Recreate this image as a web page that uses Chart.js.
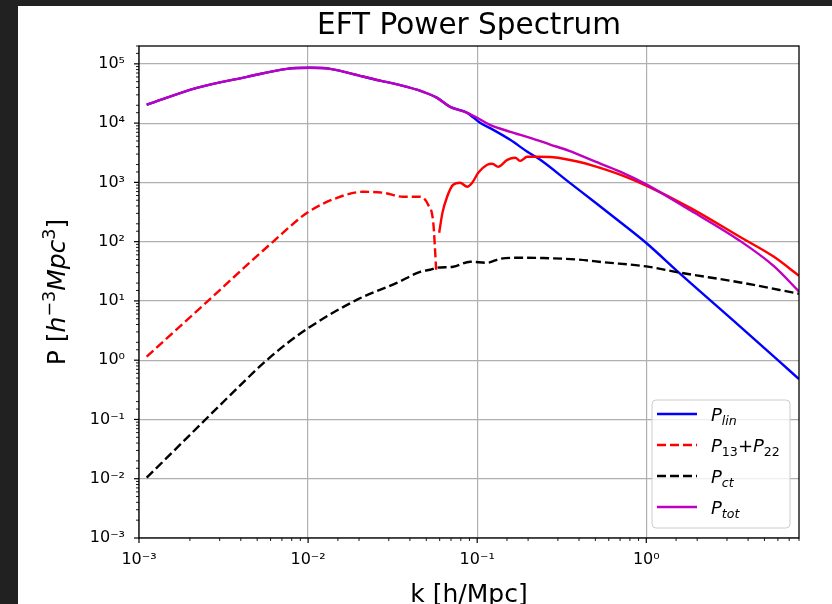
<!DOCTYPE html>
<html>
<head>
<meta charset="utf-8">
<title>EFT Power Spectrum</title>
<script src="https://cdn.jsdelivr.net/npm/chart.js@4.4.1/dist/chart.umd.min.js"></script>
<style>
  html, body { margin: 0; padding: 0; background: #212121; overflow: hidden; }
  #wrap { position: absolute; left: 18px; top: 6px; width: 814px; height: 598px; background: #fff; }
</style>
</head>
<body>
<div id="wrap"><canvas id="psChart" width="814" height="598"></canvas></div>
<script>
// k in h/Mpc, P in h^-3 Mpc^3
const kLin = [0.00111, 0.0022, 0.00436, 0.0075, 0.0103, 0.0135, 0.0211, 0.0267, 0.0336, 0.0479, 0.058, 0.0692, 0.0873, 0.104, 0.1245, 0.1567, 0.198, 0.236, 0.35, 0.488, 0.7, 1.0, 1.553, 3.55, 6.0, 8.0];
const pLin = [20400, 39400, 60400, 82400, 85700, 82400, 61100, 52000, 45000, 33700, 26700, 18800, 14900, 10100, 7700, 5230, 3280, 2400, 1000, 481, 215, 95, 30.3, 3.8, 1.0, 0.48];

// P13+P22 is negative below k ~ 0.058 (plotted as |P|, dashed) and positive above (solid)
const kLoopNeg = [0.00111, 0.0023, 0.00436, 0.0062, 0.00987, 0.01485, 0.0211, 0.0278, 0.0365, 0.046, 0.0513, 0.055, 0.0572];
const pLoopNeg = [1.15, 7.57, 40.4, 99.5, 307, 550, 693, 668, 572, 572, 419, 208, 33.6];
const kLoopPos = [0.0596, 0.0622, 0.0664, 0.0721, 0.0793, 0.0873, 0.0934, 0.1014, 0.1146, 0.1227, 0.133, 0.1506, 0.168, 0.1797, 0.1976, 0.2265, 0.282, 0.391, 0.488, 0.7, 1.0, 1.83, 3.55, 5.66, 8.0];
const pLoopPos = [141, 300, 572, 912, 985, 843, 985, 1450, 1980, 2060, 1830, 2400, 2600, 2310, 2700, 2700, 2650, 2250, 1900, 1350, 880, 368, 122, 56, 26.6];

const kCt = [0.00111, 0.0023, 0.00345, 0.00542, 0.0075, 0.0103, 0.0195, 0.0337, 0.046, 0.0527, 0.058, 0.0721, 0.091, 0.1146, 0.1368, 0.18, 0.236, 0.391, 0.557, 1.0, 1.553, 3.6, 8.0];
const pCt = [0.0104, 0.0813, 0.255, 0.88, 1.92, 3.67, 10.5, 20.3, 31, 33.6, 36.3, 37.8, 45.8, 44, 51.5, 53.5, 53, 50, 45, 38.2, 30.3, 20.5, 13.2];

const kTot = [0.00111, 0.0022, 0.00436, 0.0075, 0.0103, 0.0135, 0.0211, 0.0267, 0.0336, 0.0479, 0.058, 0.0692, 0.0873, 0.1, 0.119, 0.157, 0.206, 0.27, 0.35, 0.488, 0.7, 1.0, 1.83, 3.55, 5.66, 8.0];
const pTot = [20400, 39400, 60400, 82400, 85700, 82400, 61100, 52000, 45000, 33700, 26700, 18800, 14900, 12300, 9350, 7130, 5650, 4350, 3400, 2300, 1520, 925, 335, 105, 39, 14.4];

const xRange = [1e-3, 8];
const yRange = [1e-3, 2e5];

// legend / axis texts as [text, kind]: '' roman, 'i' italic, '_' sub, '_i' italic sub, '^' sup
const legendText = {
  'P_lin': [['P', 'i'], ['lin', '_i']],
  'P13+P22': [['P', 'i'], ['13', '_'], ['+', ''], ['P', 'i'], ['22', '_']],
  'P_ct': [['P', 'i'], ['ct', '_i']],
  'P_tot': [['P', 'i'], ['tot', '_i']]
};
const yTitle = [['P [', ''], ['h', 'i'], ['\u22123', '^'], ['Mpc', 'i'], ['3', '^'], [']', '']];

const FONT = '"DejaVu Sans", sans-serif';
const supDigits = { '-': '\u207B', '0': '\u2070', '1': '\u00B9', '2': '\u00B2', '3': '\u00B3', '4': '\u2074', '5': '\u2075', '6': '\u2076', '7': '\u2077', '8': '\u2078', '9': '\u2079' };

function isDecade(v) {
  const e = Math.log10(v);
  return Math.abs(e - Math.round(e)) < 1e-6;
}
function decadeLabel(v) {
  if (!isDecade(v)) return '';
  return '10' + String(Math.round(Math.log10(v))).split('').map(c => supDigits[c]).join('');
}
function pts(ks, ps) {
  return ks.map((k, i) => ({ x: k, y: ps[i] }));
}

function drawRich(ctx, parts, x, y, size, align) {
  const spans = parts.map(([t, kind]) => {
    const small = kind[0] === '_' || kind[0] === '^';
    const s = small ? size * 0.7 : size;
    const font = (kind.endsWith('i') ? 'italic ' : '') + s + 'px ' + FONT;
    ctx.font = font;
    const w = ctx.measureText(t).width;
    const dy = kind[0] === '_' ? size * 0.2 : (kind[0] === '^' ? -size * 0.4 : 0);
    return { t, font, w, dy };
  });
  const total = spans.reduce((a, s) => a + s.w, 0);
  let cx = align === 'center' ? x - total / 2 : x;
  ctx.textAlign = 'left';
  ctx.textBaseline = 'alphabetic';
  spans.forEach(s => {
    ctx.font = s.font;
    ctx.fillText(s.t, cx, y + s.dy);
    cx += s.w;
  });
}

const axesDecor = {
  id: 'axesDecor',
  afterDatasetsDraw(chart) {
    const { ctx, chartArea: a } = chart;
    ctx.save();
    ctx.strokeStyle = '#000';
    // tick marks, major longer than minor
    chart.scales.x.ticks.forEach(t => {
      const px = chart.scales.x.getPixelForValue(t.value);
      const maj = isDecade(t.value);
      ctx.lineWidth = maj ? 1.2 : 0.9;
      ctx.beginPath();
      ctx.moveTo(px, a.bottom);
      ctx.lineTo(px, a.bottom + (maj ? 5 : 3));
      ctx.stroke();
    });
    chart.scales.y.ticks.forEach(t => {
      const py = chart.scales.y.getPixelForValue(t.value);
      const maj = isDecade(t.value);
      ctx.lineWidth = maj ? 1.2 : 0.9;
      ctx.beginPath();
      ctx.moveTo(a.left, py);
      ctx.lineTo(a.left - (maj ? 5 : 3), py);
      ctx.stroke();
    });
    ctx.lineWidth = 1.3;
    ctx.strokeRect(a.left, a.top, a.right - a.left, a.bottom - a.top);
    ctx.restore();
  },
  afterDraw(chart) {
    const { ctx, chartArea: a } = chart;
    const cx = (a.left + a.right) / 2;
    ctx.save();
    ctx.fillStyle = '#000';
    // title
    ctx.font = '29.5px ' + FONT;
    ctx.textAlign = 'center';
    ctx.textBaseline = 'alphabetic';
    ctx.fillText('EFT Power Spectrum', cx, 28);
    // x title
    ctx.font = '25px ' + FONT;
    ctx.fillText('k [h/Mpc]', cx, 596);
    // y title
    ctx.save();
    ctx.translate(47, (a.top + a.bottom) / 2);
    ctx.rotate(-Math.PI / 2);
    drawRich(ctx, yTitle, 0, 0, 25, 'center');
    ctx.restore();

    // legend box
    const bx = 634, by = 394, bw = 138, bh = 128, r = 4;
    ctx.beginPath();
    ctx.moveTo(bx + r, by);
    ctx.arcTo(bx + bw, by, bx + bw, by + bh, r);
    ctx.arcTo(bx + bw, by + bh, bx, by + bh, r);
    ctx.arcTo(bx, by + bh, bx, by, r);
    ctx.arcTo(bx, by, bx + bw, by, r);
    ctx.closePath();
    ctx.fillStyle = 'rgba(255,255,255,0.8)';
    ctx.fill();
    ctx.strokeStyle = '#cccccc';
    ctx.lineWidth = 1;
    ctx.stroke();

    let row = 0;
    chart.data.datasets.forEach(ds => {
      if (ds.hideInLegend) return;
      const ly = 408 + row * 31;
      ctx.strokeStyle = ds.borderColor;
      ctx.lineWidth = ds.borderWidth;
      ctx.setLineDash(ds.borderDash || []);
      ctx.beginPath();
      ctx.moveTo(639, ly);
      ctx.lineTo(679, ly);
      ctx.stroke();
      ctx.setLineDash([]);
      ctx.fillStyle = '#000';
      drawRich(ctx, legendText[ds.label], 693, ly + 7, 18, 'left');
      row++;
    });
    ctx.restore();
  }
};

const gridColor = (c) => (c.tick && isDecade(c.tick.value)) ? '#b0b0b0' : 'rgba(0,0,0,0)';
const dash = [9, 4];
const lw = 2.4;

new Chart(document.getElementById('psChart'), {
  type: 'line',
  data: {
    datasets: [
      { label: 'P_lin', data: pts(kLin, pLin), borderColor: '#0000ff', borderWidth: lw, order: 5 },
      { label: 'P13+P22', data: pts(kLoopNeg, pLoopNeg), borderColor: '#ff0000', borderWidth: lw, borderDash: dash, order: 4 },
      { label: 'P13+P22 (positive)', data: pts(kLoopPos, pLoopPos), borderColor: '#ff0000', borderWidth: lw, order: 3, hideInLegend: true },
      { label: 'P_ct', data: pts(kCt, pCt), borderColor: '#000000', borderWidth: lw, borderDash: dash, order: 2 },
      { label: 'P_tot', data: pts(kTot, pTot), borderColor: '#bf00bf', borderWidth: lw, order: 1 }
    ]
  },
  options: {
    responsive: false,
    animation: false,
    devicePixelRatio: 1,
    parsing: false,
    layout: { padding: { left: 0, top: 40, right: 33, bottom: 0 } },
    elements: {
      point: { radius: 0 },
      line: { cubicInterpolationMode: 'monotone', fill: false }
    },
    plugins: {
      legend: { display: false },
      title: { display: false },
      tooltip: { enabled: false }
    },
    scales: {
      x: {
        type: 'logarithmic',
        min: xRange[0],
        max: xRange[1],
        afterFit(s) { s.height = 66; },
        border: { display: false },
        grid: { color: gridColor, lineWidth: 1.2, drawTicks: false },
        ticks: {
          autoSkip: false,
          maxRotation: 0,
          padding: 12,
          color: '#000',
          font: { family: FONT, size: 16 },
          callback: (v) => decadeLabel(v)
        }
      },
      y: {
        type: 'logarithmic',
        min: yRange[0],
        max: yRange[1],
        afterFit(s) { s.width = 121; },
        border: { display: false },
        grid: { color: gridColor, lineWidth: 1.2, drawTicks: false },
        ticks: {
          autoSkip: false,
          padding: 14,
          color: '#000',
          font: { family: FONT, size: 16 },
          callback: (v) => decadeLabel(v)
        }
      }
    }
  },
  plugins: [axesDecor]
});
</script>
</body>
</html>
